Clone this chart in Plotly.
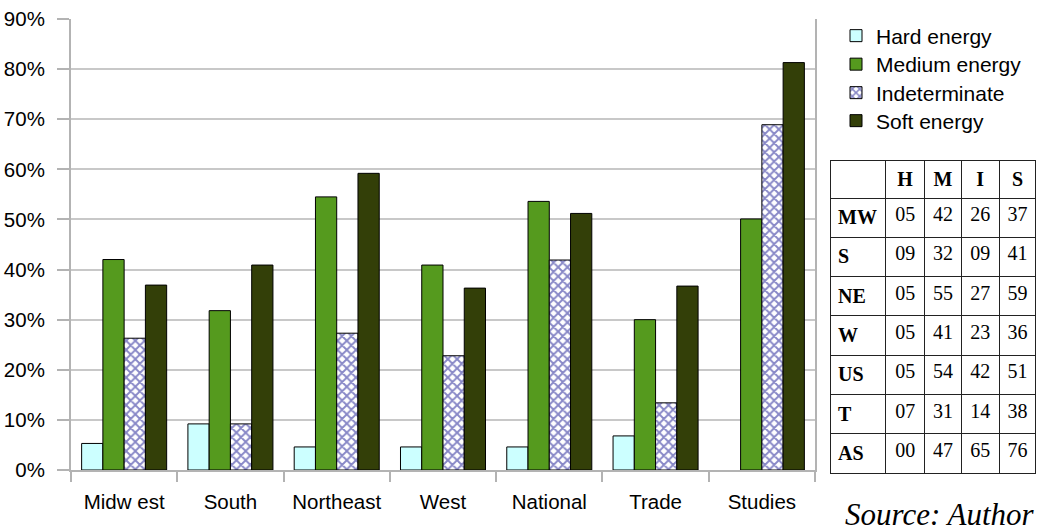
import plotly.graph_objects as go

categories = ["Midw est", "South", "Northeast", "West", "National", "Trade", "Studies"]
hard = [0.053, 0.092, 0.046, 0.046, 0.046, 0.068, None]
medium = [0.420, 0.318, 0.545, 0.409, 0.536, 0.300, 0.501]
indeterminate = [0.263, 0.092, 0.273, 0.228, 0.419, 0.134, 0.689]
soft = [0.369, 0.409, 0.592, 0.363, 0.512, 0.367, 0.813]

table_rows = ["MW", "S", "NE", "W", "US", "T", "AS"]
table_header = ["", "H", "M", "I", "S"]
table_H = ["05", "09", "05", "05", "05", "07", "00"]
table_M = ["42", "32", "55", "41", "54", "31", "47"]
table_I = ["26", "09", "27", "23", "42", "14", "65"]
table_S = ["37", "41", "59", "36", "51", "38", "76"]

W, H = 1040, 531
SANS = "Liberation Sans, Arial, sans-serif"
SERIF = "Liberation Serif, Times New Roman, serif"

fig = go.Figure()
series = [
    ("Hard energy", hard, dict(color="#ccffff")),
    ("Medium energy", medium, dict(color="#559a1e")),
    ("Indeterminate", indeterminate,
     dict(color="white", pattern=dict(shape="x", fgcolor="#10108e", bgcolor="white",
                                      size=6.5, solidity=0.5, fillmode="overlay"))),
    ("Soft energy", soft, dict(color="#333f08")),
]
legend_names = ["legend", "legend2", "legend3", "legend4"]
for (name, vals, mk), lg in zip(series, legend_names):
    mk = dict(mk)
    mk["line"] = dict(color="black", width=1)
    fig.add_trace(go.Bar(x=categories, y=vals, name=name, marker=mk, legend=lg,
                         showlegend=True))

fig.add_trace(go.Table(
    domain=dict(x=[830 / W, 1037 / W], y=[0, (H - 160) / H]),
    columnwidth=[56, 39, 37, 38, 37],
    header=dict(values=[f"<b>{h}</b>" if h else "" for h in table_header],
                height=38, align="center",
                font=dict(family=SERIF, size=20, color="black"),
                line=dict(color="#222222", width=1), fill=dict(color="white")),
    cells=dict(values=[[f"<b>{r}</b>" for r in table_rows], table_H, table_M, table_I, table_S],
               height=39.3, align=["left", "center", "center", "center", "center"],
               font=dict(family=SERIF, size=20, color="black"),
               line=dict(color="#222222", width=1), fill=dict(color="white")),
))

legend_centers = [36, 64.5, 93, 121]
legend_cfg = {}
for lg, cy in zip(legend_names, legend_centers):
    legend_cfg[lg] = dict(x=836 / W, y=(H - cy) / H, xanchor="left", yanchor="middle",
                          font=dict(family=SANS, size=21, color="black"),
                          bgcolor="rgba(0,0,0,0)")

fig.update_layout(
    width=W, height=H,
    margin=dict(l=0, r=0, t=0, b=0),
    showlegend=True,
    paper_bgcolor="white", plot_bgcolor="white",
    barmode="group", bargap=0.2, bargroupgap=0,
    font=dict(family=SANS, size=21, color="black"),
    xaxis=dict(domain=[71 / W, 815 / W], showline=True, linecolor="#b3b3b3", linewidth=2,
               ticks="outside", tickson="boundaries", ticklen=10, tickcolor="#b3b3b3",
               tickwidth=2, showgrid=False, tickfont=dict(family=SANS, size=20.5, color="black"),
               ticklabelstandoff=12, automargin=False),
    yaxis=dict(domain=[(H - 470) / H, (H - 19) / H], range=[0, 0.9], dtick=0.1,
               tickformat=".0%", showline=True, mirror=True, linecolor="#b3b3b3", linewidth=2,
               ticks="outside", ticklen=12, tickcolor="#b3b3b3", tickwidth=2,
               showgrid=True, gridcolor="#c8c8c8", gridwidth=2, zeroline=False,
               tickfont=dict(family=SANS, size=20.5, color="black"), ticklabelstandoff=8,
               automargin=False),
    annotations=[dict(text="<i>Source: Author</i>", xref="paper", yref="paper",
                      x=1036 / W, y=(H - 514) / H, xanchor="right", yanchor="middle",
                      showarrow=False, font=dict(family=SERIF, size=31, color="black"))],
    **legend_cfg,
)

fig.write_html("out.html")
